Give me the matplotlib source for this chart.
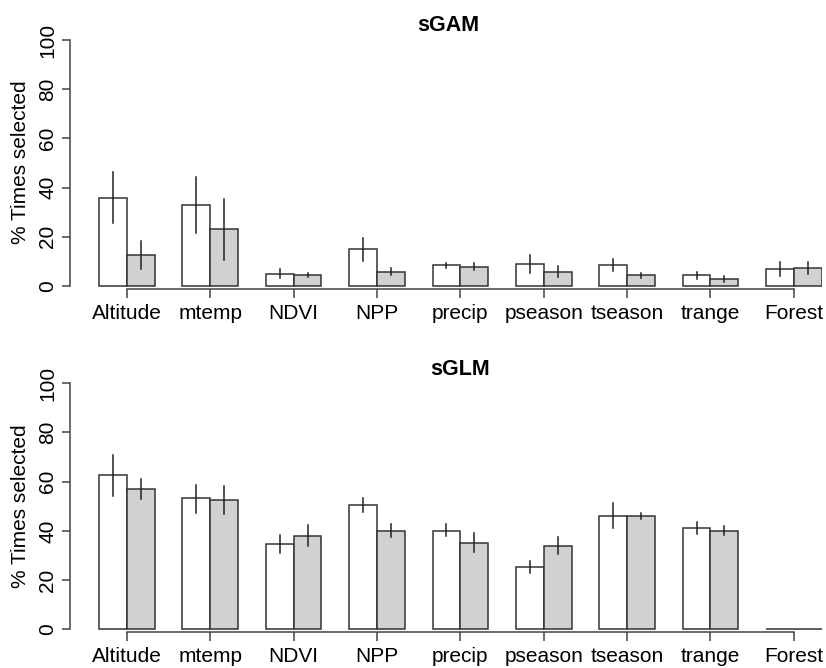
import matplotlib.pyplot as plt
import numpy as np

plt.rcParams['font.family'] = ['Liberation Sans', 'DejaVu Sans']

# predictors (same for both panels)
variables = ["Altitude", "mtemp", "NDVI", "NPP", "precip", "pseason", "tseason", "trange", "Forest"]

# sGAM: white bars, grey bars, with lower / upper ends of the error lines
gam_white = [35.9, 32.9, 4.9, 15.0, 8.4, 8.9, 8.4, 4.3, 6.8]
gam_white_lo = [25.5, 21.7, 3.1, 10.3, 7.5, 5.1, 6.0, 3.0, 4.2]
gam_white_hi = [46.2, 44.2, 6.8, 19.4, 9.5, 12.6, 10.8, 5.6, 9.6]
gam_grey = [12.5, 23.0, 4.3, 5.8, 7.9, 5.8, 4.3, 3.0, 7.5]
gam_grey_lo = [6.8, 10.6, 3.8, 4.3, 6.4, 3.8, 3.3, 1.8, 4.7]
gam_grey_hi = [18.3, 35.2, 5.1, 7.5, 9.2, 8.1, 5.4, 4.1, 9.9]

# sGLM
glm_white = [62.6, 53.3, 34.7, 50.7, 40.1, 25.1, 46.1, 41.1, 0]
glm_white_lo = [54.3, 47.4, 30.9, 47.8, 37.7, 22.8, 41.1, 38.6, 0]
glm_white_hi = [70.9, 58.8, 38.3, 53.4, 42.7, 27.6, 51.2, 43.5, 0]
glm_grey = [57.0, 52.6, 38.1, 40.1, 35.1, 34.0, 46.1, 40.1, 0]
glm_grey_lo = [53.1, 47.0, 33.9, 37.4, 31.3, 30.6, 44.9, 38.2, 0]
glm_grey_hi = [61.1, 58.3, 42.4, 42.8, 39.0, 37.5, 47.3, 41.9, 0]

edge = "#333333"
grey_fill = "#d1d1d3"
w = 1 / 3


def panel(ax, white, wlo, whi, grey, glo, ghi, title, title_x, ybottom):
    x = np.arange(len(variables))
    ax.bar(x - w / 2, white, width=w, color="white", edgecolor=edge, linewidth=1.1)
    ax.bar(x + w / 2, grey, width=w, color=grey_fill, edgecolor=edge, linewidth=1.1)
    # error lines, only where there is an interval
    for i in range(len(x)):
        if whi[i] > wlo[i]:
            ax.plot([x[i] - w / 2] * 2, [wlo[i], whi[i]], color="#222222", lw=1.1)
        if ghi[i] > glo[i]:
            ax.plot([x[i] + w / 2] * 2, [glo[i], ghi[i]], color="#222222", lw=1.1)
    ax.set_xlim(-0.683, len(x) - 1 + w)
    ax.set_ylim(ybottom, 101.5)
    ax.spines["top"].set_visible(False)
    ax.spines["right"].set_visible(False)
    ax.spines["left"].set_bounds(0, 100)
    ax.spines["bottom"].set_bounds(0, len(x) - 1)
    for s in ("left", "bottom"):
        ax.spines[s].set_color("#444444")
        ax.spines[s].set_linewidth(1.1)
    ax.set_xticks(x)
    ax.set_xticklabels(variables, fontsize=15)
    ax.set_yticks([0, 20, 40, 60, 80, 100])
    ax.set_yticklabels(["0", "20", "40", "60", "80", "100"], fontsize=15,
                       rotation=90, va="center")
    ax.tick_params(axis="x", length=6.5, width=1.1, color="#444444", pad=4.5)
    ax.tick_params(axis="y", length=6, width=1.1, color="#444444", pad=3)
    ax.set_ylabel("% Times selected", fontsize=15, labelpad=6)
    ax.text(title_x, 1.0, title, transform=ax.transAxes, ha="center", va="bottom",
            fontsize=15.5, fontweight="bold")


fig = plt.figure(figsize=(8.26, 6.68), dpi=100)
ax1 = fig.add_axes([0.0847, 0.5674, 0.910, 0.3783])
ax2 = fig.add_axes([0.0847, 0.0537, 0.910, 0.3780])

panel(ax1, gam_white, gam_white_lo, gam_white_hi, gam_grey, gam_grey_lo, gam_grey_hi,
      "sGAM", 0.503, -1.2)
panel(ax2, glm_white, glm_white_lo, glm_white_hi, glm_grey, glm_grey_lo, glm_grey_hi,
      "sGLM", 0.519, -1.2)

fig.savefig("out.png", dpi=100)
